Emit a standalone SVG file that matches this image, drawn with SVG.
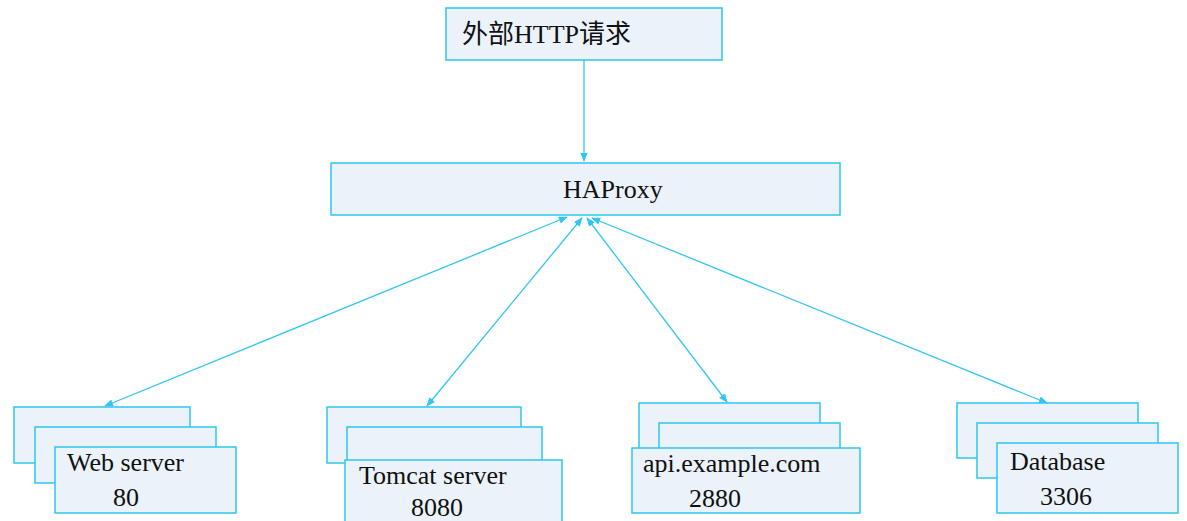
<svg xmlns="http://www.w3.org/2000/svg" width="1187" height="521" viewBox="0 0 1187 521">
<style>
.b{fill:#ebf2fa;stroke:#2fc6ef;stroke-width:1.5}
.t{font-family:"Liberation Serif","Noto Sans CJK SC",serif;font-size:26px;fill:#111}
.c{stroke:#2fc6ef;stroke-width:1.3;fill:none}
</style>
<defs><marker id="a" viewBox="0 0 10 10" refX="9" refY="5" markerWidth="7" markerHeight="7" orient="auto-start-reverse"><path d="M0,1L10,5L0,9z" fill="#2fc6ef"/></marker></defs>
<rect width="1187" height="521" fill="#fff"/>
<g id="connectors">
<line class="c" x1="584" y1="60" x2="584" y2="161" marker-end="url(#a)"/>
<line class="c" x1="567" y1="217" x2="105" y2="406" marker-start="url(#a)" marker-end="url(#a)"/>
<line class="c" x1="582" y1="218" x2="427" y2="406" marker-start="url(#a)" marker-end="url(#a)"/>
<line class="c" x1="587" y1="218" x2="727" y2="402" marker-start="url(#a)" marker-end="url(#a)"/>
<line class="c" x1="592" y1="218" x2="1047" y2="403" marker-start="url(#a)" marker-end="url(#a)"/>
</g>
<g id="req"><rect class="b" x="446" y="8" width="276" height="52"/><text class="t" x="462" y="43">外部HTTP请求</text></g>
<g id="haproxy"><rect class="b" x="331" y="163" width="509" height="52"/><text class="t" x="563" y="198">HAProxy</text></g>
<g id="web"><rect class="b" x="14" y="407" width="176" height="56"/><rect class="b" x="35" y="427" width="181" height="56"/><rect class="b" x="55" y="447" width="181" height="66"/><text class="t" x="67" y="471">Web server</text><text class="t" x="113" y="506">80</text></g>
<g id="tomcat"><rect class="b" x="327" y="407" width="194" height="56"/><rect class="b" x="347" y="427" width="195" height="56"/><rect class="b" x="345" y="460" width="217" height="65"/><text class="t" x="359" y="484">Tomcat server</text><text class="t" x="411" y="516">8080</text></g>
<g id="api"><rect class="b" x="639" y="403" width="181" height="55"/><rect class="b" x="659" y="423" width="181" height="55"/><rect class="b" x="632" y="448" width="228" height="65"/><text class="t" x="643" y="472">api.example.com</text><text class="t" x="689" y="507">2880</text></g>
<g id="db"><rect class="b" x="957" y="403" width="181" height="55"/><rect class="b" x="977" y="423" width="181" height="55"/><rect class="b" x="997" y="443" width="181" height="70"/><text class="t" x="1010" y="470">Database</text><text class="t" x="1040" y="505">3306</text></g>
</svg>
